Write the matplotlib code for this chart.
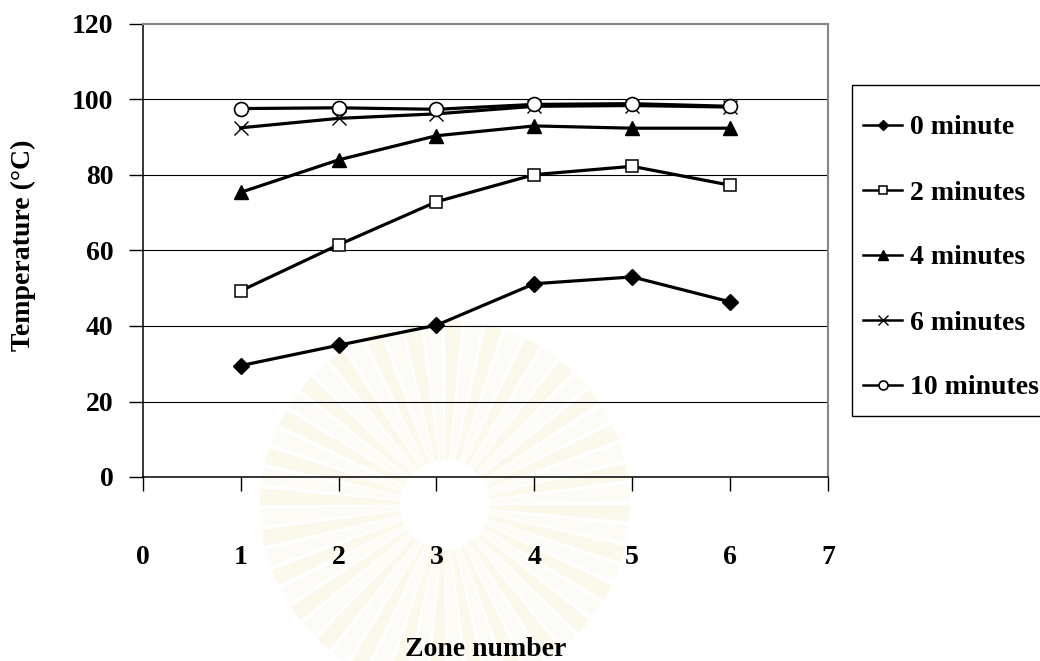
import matplotlib
matplotlib.use("Agg")
import matplotlib.pyplot as plt
from matplotlib.lines import Line2D
from matplotlib.patches import Rectangle, Wedge

# Zone positions along the heating line
zones = [1, 2, 3, 4, 5, 6]

# Temperature (°C) in each zone after the given heating time
temp_0min = [29.5, 34.9, 40.2, 51.2, 53.0, 46.4]
temp_2min = [49.3, 61.5, 72.9, 80.1, 82.3, 77.3]
temp_4min = [75.4, 84.0, 90.4, 93.0, 92.4, 92.4]
temp_6min = [92.5, 95.0, 96.2, 98.2, 98.4, 98.0]
temp_10min = [97.6, 97.8, 97.4, 98.7, 98.9, 98.2]

series_labels = ["0 minute", "2 minutes", "4 minutes", "6 minutes", "10 minutes"]
x_ticks = [0, 1, 2, 3, 4, 5, 6, 7]
y_ticks = [0, 20, 40, 60, 80, 100, 120]

plt.rcParams["font.family"] = ["Liberation Serif", "DejaVu Serif"]
plt.rcParams["font.weight"] = "bold"
FS = 20

W, H = 1040, 661
fig = plt.figure(figsize=(W / 100, H / 100), dpi=100)
fig.patch.set_facecolor("white")


def fx(px):
    return px / W


def fy(py):
    return 1 - py / H


# background layer in pixel coordinates: faint sunburst emblem on the page
bg = fig.add_axes([0, 0, 1, 1], zorder=-10)
bg.set_xlim(0, W)
bg.set_ylim(H, 0)
bg.axis("off")
cx, cy = 445, 505
n_rays = 56
for i in range(n_rays):
    a0 = i * 360 / n_rays
    col = "#fbf8ec" if i % 2 == 0 else "#fdfbf5"
    bg.add_patch(Wedge((cx, cy), 185, a0, a0 + 360 / n_rays * 0.8, width=140,
                       facecolor=col, edgecolor="none"))

# axes box in pixel terms
left_px, right_px, top_px, bottom_px = 142.7, 828.0, 24.0, 477.0
ax = fig.add_axes([fx(left_px), fy(bottom_px),
                   (right_px - left_px) / W, (bottom_px - top_px) / H], zorder=1)
ax.patch.set_alpha(0)

styles = [
    dict(marker="D", ms=8.0, mfc="black", mec="black", mew=1.0),
    dict(marker="s", ms=9.0, mfc="white", mec="black", mew=1.1),
    dict(marker="^", ms=10.5, mfc="black", mec="black", mew=1.0),
    dict(marker="x", ms=10.0, mfc="none", mec="black", mew=1.0),
    dict(marker="o", ms=10.0, mfc="white", mec="black", mew=1.2),
]
series = [temp_0min, temp_2min, temp_4min, temp_6min, temp_10min]

for vals, st in zip(series, styles):
    ax.plot(zones, vals, color="black", lw=2.3, solid_joinstyle="round", **st)

ax.set_xlim(0, 7)
ax.set_ylim(0, 120)
ax.set_xticks(x_ticks)
ax.set_yticks(y_ticks)
ax.set_xticklabels([str(v) for v in x_ticks], fontsize=FS, fontweight="bold")
ax.set_yticklabels([str(v) for v in y_ticks], fontsize=FS, fontweight="bold")
ax.tick_params(axis="both", direction="out", length=10, width=1.0, color="black")
ax.tick_params(axis="y", pad=11)
ax.tick_params(axis="x", pad=39)

# horizontal gridlines
for v in y_ticks[1:-1]:
    ax.axhline(v, color="black", lw=0.8, zorder=1)

for s in ["left", "bottom"]:
    ax.spines[s].set_color("black")
    ax.spines[s].set_linewidth(1.1)
for s in ["top", "right"]:
    ax.spines[s].set_color("#868686")
    ax.spines[s].set_linewidth(1.5)

ax.set_xlabel("Zone number", fontsize=FS, fontweight="bold")
ax.xaxis.set_label_coords(0.5, (bottom_px - 650) / (bottom_px - top_px))
ax.xaxis.label.set_va("center")
ax.set_ylabel("Temperature (°C)", fontsize=FS, fontweight="bold")
ax.yaxis.set_label_coords((23 - left_px) / (right_px - left_px),
                          (bottom_px - 245) / (bottom_px - top_px))
ax.yaxis.label.set_va("center")

# legend: frame, sample lines with markers, and labels in figure pixels
leg_left, leg_top, leg_bottom = 852, 85, 416
bg.add_patch(Rectangle((leg_left, leg_top), W + 20 - leg_left,
                       leg_bottom - leg_top, facecolor="white",
                       edgecolor="black", lw=1.0, zorder=3))
row_y = [125, 190, 255, 320, 385]
for label, st, ry in zip(series_labels, styles, row_y):
    hs = dict(st)
    hs["ms"] = st["ms"] * 0.65
    bg.add_line(Line2D([863, 902], [ry, ry], color="black", lw=1.8, zorder=4))
    bg.add_line(Line2D([882.5], [ry], color="black", lw=0, zorder=5, **hs))
    bg.text(910, ry, label, fontsize=FS, fontweight="bold",
            ha="left", va="center_baseline", zorder=5)

fig.savefig("out.png", dpi=100, facecolor="white")
